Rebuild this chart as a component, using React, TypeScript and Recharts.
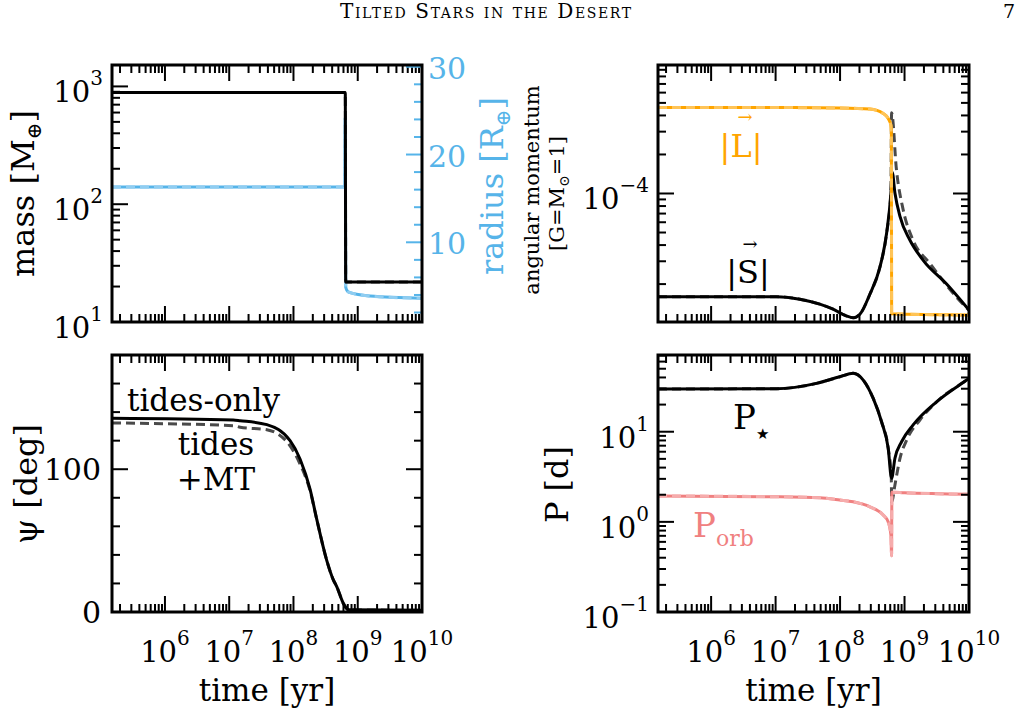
import React from 'react';
import { LineChart, Line, XAxis, YAxis } from 'recharts';

const W = 1022;
const H = 717;
const SERIF = '"DejaVu Serif", serif';
const AXW = 60;
const AXH = 30;

const BLUE = '#56B4E9';
const BLUE_MT = '#8FCDF1';
const ORANGE = '#FFA500';
const ORANGE_MT = '#FFC457';
const PINK = '#F08080';
const PINK_MT = '#F6ACAC';
const DASH_BLACK = '#4a4a4a';

type Box = { left: number; right: number; top: number; bottom: number };
const BOX_TL: Box = { left: 112, right: 422, top: 65, bottom: 322 };
const BOX_TR: Box = { left: 658, right: 969, top: 65, bottom: 322 };
const BOX_BL: Box = { left: 112, right: 422, top: 355, bottom: 612 };
const BOX_BR: Box = { left: 658, right: 969, top: 355, bottom: 612 };

// time axis, shared by all panels
const T_MIN = 1.5e5;
const T_MAX = 1e10;

// top left: planet mass [M_earth] and radius [R_earth]
const MASS_T = [1.5e5, 6.4e8, 6.5e8, 1e10];
const MASS = [890, 890, 21.9, 21.9];
const RADIUS_T = [1.5e5, 6.3e8, 6.4e8, 6.5e8, 6.9e8, 7.6e8, 1.55e9, 1e10];
const RADIUS = [16.3, 16.3, 24.2, 4.9, 4.45, 4.26, 3.88, 3.62];

// top right: angular momentum, orbit |L| and stellar spin |S|
const L_T = [1.5e5, 1e7, 1e8, 2.9e8, 4.67e8, 5.58e8, 6.15e8, 6.25e8, 6.31e8, 1e10];
const L_ORB = [4.6e-4, 4.6e-4, 4.56e-4, 4.48e-4, 4.14e-4, 3.79e-4, 3.36e-4, 2.9e-4, 1.18e-5, 1.155e-5];
const S_T = [1.5e5, 1.03e7, 2.38e7, 4.85e7, 7.8e7, 1.26e8, 1.6e8, 2.03e8, 2.9e8, 4.15e8, 5.27e8, 6.15e8, 6.44e8, 7.1e8, 8.5e8, 1.21e9, 1.95e9, 4.5e9, 1e10];
const S_TIDES = [1.6e-5, 1.6e-5, 1.53e-5, 1.4e-5, 1.28e-5, 1.135e-5, 1.1e-5, 1.17e-5, 1.67e-5, 2.7e-5, 4.93e-5, 1.01e-4, 1.46e-4, 1.01e-4, 6.65e-5, 4.38e-5, 3.05e-5, 2.0e-5, 1.26e-5];
const S_MT_T = [1.5e5, 1.03e7, 2.38e7, 4.85e7, 7.8e7, 1.26e8, 1.6e8, 2.03e8, 2.9e8, 4.15e8, 5.27e8, 6.15e8, 6.3e8, 7.5e8, 9.55e8, 1.36e9, 2.48e9, 9.2e9, 1e10];
const S_MT = [1.6e-5, 1.6e-5, 1.53e-5, 1.4e-5, 1.28e-5, 1.135e-5, 1.1e-5, 1.17e-5, 1.67e-5, 2.7e-5, 4.93e-5, 1.01e-4, 4.2e-4, 1.52e-4, 7.45e-5, 4.35e-5, 2.88e-5, 1.31e-5, 1.26e-5];

// bottom left: stellar obliquity psi [deg]
const PSI_T = [1.5e5, 1.16e7, 1.48e7, 3.85e7, 8.85e7, 1.27e8, 1.81e8, 2.3e8, 3.3e8, 4.17e8, 4.71e8, 5.97e8, 6.9e8, 7.6e8, 1e10];
const PSI_TIDES = [135.7, 134.5, 134, 131.2, 120, 107, 86, 65, 36, 22.5, 17.8, 6, 2, 1.5, 1.2];
const PSI_MT = [132.4, 130.5, 129.4, 127.7, 116.4, 103.5, 85, 65, 36, 22.5, 17.8, 6, 2, 1.5, 1.2];

// bottom right: periods [d]
const PSTAR_T = [1.5e5, 1.03e7, 4.3e7, 9.9e7, 1.6e8, 2.29e8, 3.27e8, 4.4e8, 5.58e8, 6.3e8, 7.1e8, 9.0e8, 1.36e9, 3.15e9, 9.2e9, 1e10];
const PSTAR_TIDES = [29.8, 30, 34.4, 40.7, 44.5, 37.4, 23.4, 12.9, 6.55, 3.04, 5.07, 7.74, 11.9, 21.5, 37.4, 39];
const PSTAR_MT_T = [1.5e5, 1.03e7, 4.3e7, 9.9e7, 1.6e8, 2.29e8, 3.27e8, 4.4e8, 5.58e8, 6.22e8, 6.33e8, 7.1e8, 8.5e8, 1.08e9, 1.73e9, 3.15e9, 9.2e9, 1e10];
const PSTAR_MT = [29.8, 30, 34.4, 40.7, 44.5, 37.4, 23.4, 12.9, 6.55, 3.2, 1.65, 2.57, 5.07, 8.1, 13.5, 21.5, 37.4, 39];
const PORB_T = [1.5e5, 1e7, 4.85e7, 9.9e7, 1.6e8, 2.9e8, 4.67e8, 5.58e8, 6.15e8, 6.3e8, 6.36e8, 1e9, 1e10];
const PORB = [1.94, 1.9, 1.85, 1.75, 1.67, 1.47, 1.19, 1.0, 0.71, 0.42, 2.13, 2.1, 2.02];

// axis ticks
const PSI_TICKS = [0, 20, 40, 60, 80, 100, 120, 140, 160, 180];
const PSI_LABELS = [0, 100];
const RADIUS_TICKS = [2, 4, 6, 8, 10, 12, 14, 16, 18, 20, 22, 24, 26, 28, 30];
const RADIUS_LABELS = [10, 20, 30];

const zip = (ts: number[], vs: number[]) => ts.map((t, i) => ({ t, v: vs[i] }));

const logTicks = (lo: number, hi: number) => {
  const out: number[] = [];
  for (let e = Math.floor(Math.log10(lo)); e <= Math.ceil(Math.log10(hi)); e++) {
    for (let m = 1; m < 10; m++) {
      const v = m * Math.pow(10, e);
      if (v >= lo * 0.999 && v <= hi * 1.001) out.push(v);
    }
  }
  return out;
};

const isDecade = (v: number) => {
  const e = Math.log10(v);
  return Math.abs(e - Math.round(e)) < 1e-6;
};
const expOf = (v: number) => String(Math.round(Math.log10(v))).replace('-', '\u2212');

const TIME_TICKS = logTicks(T_MIN, T_MAX);

const margin = (b: Box, rightAxis = false) => ({
  top: b.top,
  left: b.left - AXW,
  right: W - b.right - (rightAxis ? AXW : 0),
  bottom: H - b.bottom - AXH,
});

const timeTick = (b: Box, labels: boolean) => (props: any) => {
  const { x, payload } = props;
  const major = isDecade(payload.value);
  const len = major ? 16 : 8;
  return (
    <g>
      <line x1={x} x2={x} y1={b.bottom} y2={b.bottom - len} stroke="#000" strokeWidth={2} />
      <line x1={x} x2={x} y1={b.top} y2={b.top + len} stroke="#000" strokeWidth={2} />
      {labels && major && (
        <text x={x} y={b.bottom + 50} textAnchor="middle" fontFamily={SERIF} fontSize={29} fill="#000">
          10<tspan dy={-17} fontSize={20}>{expOf(payload.value)}</tspan>
        </text>
      )}
    </g>
  );
};

const logYTick = (b: Box, mirror: boolean) => (props: any) => {
  const { y, payload } = props;
  const v = payload.value;
  const major = isDecade(v);
  const len = major ? 16 : 8;
  return (
    <g>
      <line x1={b.left} x2={b.left + len} y1={y} y2={y} stroke="#000" strokeWidth={2} />
      {mirror && <line x1={b.right} x2={b.right - len} y1={y} y2={y} stroke="#000" strokeWidth={2} />}
      {major && (
        <text x={b.left - 9} y={y + 16} textAnchor="end" fontFamily={SERIF} fontSize={29} fill="#000">
          10<tspan dy={-17} fontSize={20}>{expOf(v)}</tspan>
        </text>
      )}
    </g>
  );
};

const psiTick = (props: any) => {
  const { y, payload } = props;
  const v = payload.value;
  const major = PSI_LABELS.includes(v);
  const len = major ? 16 : 8;
  const b = BOX_BL;
  return (
    <g>
      <line x1={b.left} x2={b.left + len} y1={y} y2={y} stroke="#000" strokeWidth={2} />
      <line x1={b.right} x2={b.right - len} y1={y} y2={y} stroke="#000" strokeWidth={2} />
      {major && (
        <text x={b.left - 11} y={y + 11} textAnchor="end" fontFamily={SERIF} fontSize={30} fill="#000">
          {v}
        </text>
      )}
    </g>
  );
};

const radiusTick = (props: any) => {
  const { y, payload } = props;
  const v = payload.value;
  const major = RADIUS_LABELS.includes(v);
  const len = major ? 16 : 8;
  const b = BOX_TL;
  return (
    <g>
      <line x1={b.right} x2={b.right - len} y1={y} y2={y} stroke={BLUE} strokeWidth={2} />
      {major && (
        <text x={b.right + 6} y={y + 12} textAnchor="start" fontFamily={SERIF} fontSize={30} fill={BLUE}>
          {v}
        </text>
      )}
    </g>
  );
};

const timeAxis = (b: Box, labels: boolean) => (
  <XAxis
    dataKey="t"
    type="number"
    scale="log"
    domain={[T_MIN, T_MAX]}
    allowDataOverflow
    ticks={TIME_TICKS}
    interval={0}
    tick={timeTick(b, labels)}
    tickLine={false}
    axisLine={false}
    height={AXH}
  />
);

const solid = (data: { t: number; v: number }[], color: string, yAxisId?: string) => (
  <Line
    data={data}
    dataKey="v"
    yAxisId={yAxisId ?? 0}
    type="monotone"
    stroke={color}
    strokeWidth={3}
    dot={false}
    activeDot={false}
    isAnimationActive={false}
  />
);

const dashed = (data: { t: number; v: number }[], color: string, yAxisId?: string) => (
  <Line
    data={data}
    dataKey="v"
    yAxisId={yAxisId ?? 0}
    type="monotone"
    stroke={color}
    strokeWidth={3}
    strokeDasharray="9 5"
    dot={false}
    activeDot={false}
    isAnimationActive={false}
  />
);

const layer: React.CSSProperties = { position: 'absolute', left: 0, top: 0 };

export default function App() {
  const massData = zip(MASS_T, MASS);
  const radiusData = zip(RADIUS_T, RADIUS);
  const lData = zip(L_T, L_ORB);
  const sData = zip(S_T, S_TIDES);
  const sMtData = zip(S_MT_T, S_MT);
  const psiData = zip(PSI_T, PSI_TIDES);
  const psiMtData = zip(PSI_T, PSI_MT);
  const pStarData = zip(PSTAR_T, PSTAR_TIDES);
  const pStarMtData = zip(PSTAR_MT_T, PSTAR_MT);
  const pOrbData = zip(PORB_T, PORB);

  return (
    <div style={{ position: 'absolute', left: 0, top: 0, width: W, height: H, background: '#fff', overflow: 'hidden' }}>
      {/* mass / radius */}
      <div style={layer}>
        <LineChart width={W} height={H} margin={margin(BOX_TL, true)}>
          {timeAxis(BOX_TL, false)}
          <YAxis
            yAxisId="m"
            type="number"
            scale="log"
            domain={[10, 1520]}
            allowDataOverflow
            ticks={logTicks(10, 1520)}
            interval={0}
            tick={logYTick(BOX_TL, false)}
            tickLine={false}
            axisLine={false}
            width={AXW}
          />
          <YAxis
            yAxisId="r"
            orientation="right"
            type="number"
            domain={[0.92, 30.2]}
            allowDataOverflow
            ticks={RADIUS_TICKS}
            interval={0}
            tick={radiusTick}
            tickLine={false}
            axisLine={false}
            width={AXW}
          />
          {solid(radiusData, BLUE, 'r')}
          {dashed(radiusData, BLUE_MT, 'r')}
          {dashed(massData, DASH_BLACK, 'm')}
          {solid(massData, '#000', 'm')}
        </LineChart>
      </div>

      {/* angular momentum */}
      <div style={layer}>
        <LineChart width={W} height={H} margin={margin(BOX_TR)}>
          {timeAxis(BOX_TR, false)}
          <YAxis
            type="number"
            scale="log"
            domain={[1.02e-5, 9.8e-4]}
            allowDataOverflow
            ticks={logTicks(1.02e-5, 9.8e-4)}
            interval={0}
            tick={logYTick(BOX_TR, true)}
            tickLine={false}
            axisLine={false}
            width={AXW}
          />
          {dashed(sMtData, DASH_BLACK)}
          {solid(sData, '#000')}
          {solid(lData, ORANGE)}
          {dashed(lData, ORANGE_MT)}
        </LineChart>
      </div>

      {/* obliquity */}
      <div style={layer}>
        <LineChart width={W} height={H} margin={margin(BOX_BL)}>
          {timeAxis(BOX_BL, true)}
          <YAxis
            type="number"
            domain={[0, 180]}
            allowDataOverflow
            ticks={PSI_TICKS}
            interval={0}
            tick={psiTick}
            tickLine={false}
            axisLine={false}
            width={AXW}
          />
          {dashed(psiMtData, DASH_BLACK)}
          {solid(psiData, '#000')}
        </LineChart>
      </div>

      {/* periods */}
      <div style={layer}>
        <LineChart width={W} height={H} margin={margin(BOX_BR)}>
          {timeAxis(BOX_BR, true)}
          <YAxis
            type="number"
            scale="log"
            domain={[0.1, 71]}
            allowDataOverflow
            ticks={logTicks(0.1, 71)}
            interval={0}
            tick={logYTick(BOX_BR, true)}
            tickLine={false}
            axisLine={false}
            width={AXW}
          />
          {dashed(pStarMtData, DASH_BLACK)}
          {solid(pStarData, '#000')}
          {solid(pOrbData, PINK)}
          {dashed(pOrbData, PINK_MT)}
        </LineChart>
      </div>

      {/* frames, titles and annotations */}
      <svg width={W} height={H} style={{ ...layer, pointerEvents: 'none' }} fontFamily={SERIF}>
        {[BOX_TL, BOX_TR, BOX_BL, BOX_BR].map((b, i) => (
          <rect key={i} x={b.left} y={b.top} width={b.right - b.left} height={b.bottom - b.top} fill="none" stroke="#000" strokeWidth={3} />
        ))}

        <text x={340} y={18} fontFamily={SERIF} fontSize={20} letterSpacing={1.6} style={{ fontVariant: 'small-caps' }}>
          Tilted Stars in the Desert
        </text>
        <text x={1003} y={18} fontFamily={SERIF} fontSize={19}>7</text>

        <text transform="translate(34,193.5) rotate(-90)" textAnchor="middle" fontSize={32}>
          mass [M<tspan dy={7} fontSize={20}>{'\u2295'}</tspan><tspan dy={-7}>]</tspan>
        </text>
        <text transform="translate(503,186) rotate(-90)" textAnchor="middle" fontSize={32} fill={BLUE}>
          radius [R<tspan dy={7} fontSize={20}>{'\u2295'}</tspan><tspan dy={-7}>]</tspan>
        </text>
        <text transform="translate(539,190) rotate(-90)" textAnchor="middle" fontSize={21}>
          angular momentum
        </text>
        <text transform="translate(564,193.5) rotate(-90)" textAnchor="middle" fontSize={21}>
          [G=M<tspan dy={5} fontSize={14}>{'\u2299'}</tspan><tspan dy={-5}>=1]</tspan>
        </text>
        <text transform="translate(37,484) rotate(-90)" textAnchor="middle" fontSize={32}>
          {'\u03C8 [deg]'}
        </text>
        <text transform="translate(568,484.5) rotate(-90)" textAnchor="middle" fontSize={32}>
          P [d]
        </text>
        <text x={267} y={701} textAnchor="middle" fontSize={31}>time [yr]</text>
        <text x={813.5} y={701} textAnchor="middle" fontSize={31}>time [yr]</text>

        <text x={741} y={157} textAnchor="middle" fontSize={32} fill={ORANGE}>|L|</text>
        <text x={745} y={123} textAnchor="middle" fontSize={18} fill={ORANGE}>{'\u2192'}</text>
        <text x={748} y={283} textAnchor="middle" fontSize={32}>|S|</text>
        <text x={750} y={250} textAnchor="middle" fontSize={18}>{'\u2192'}</text>

        <text x={733} y={429} fontSize={34}>
          P<tspan dy={10} fontSize={15}>{'\u2605'}</tspan>
        </text>
        <text x={693} y={537} fontSize={34} fill={PINK}>
          P<tspan dy={9} fontSize={22}>orb</tspan>
        </text>

        <text x={127} y={411} fontSize={31}>tides-only</text>
        <text x={216} y={455} textAnchor="middle" fontSize={31}>tides</text>
        <text x={216} y={490} textAnchor="middle" fontSize={31}>+MT</text>
      </svg>
    </div>
  );
}
